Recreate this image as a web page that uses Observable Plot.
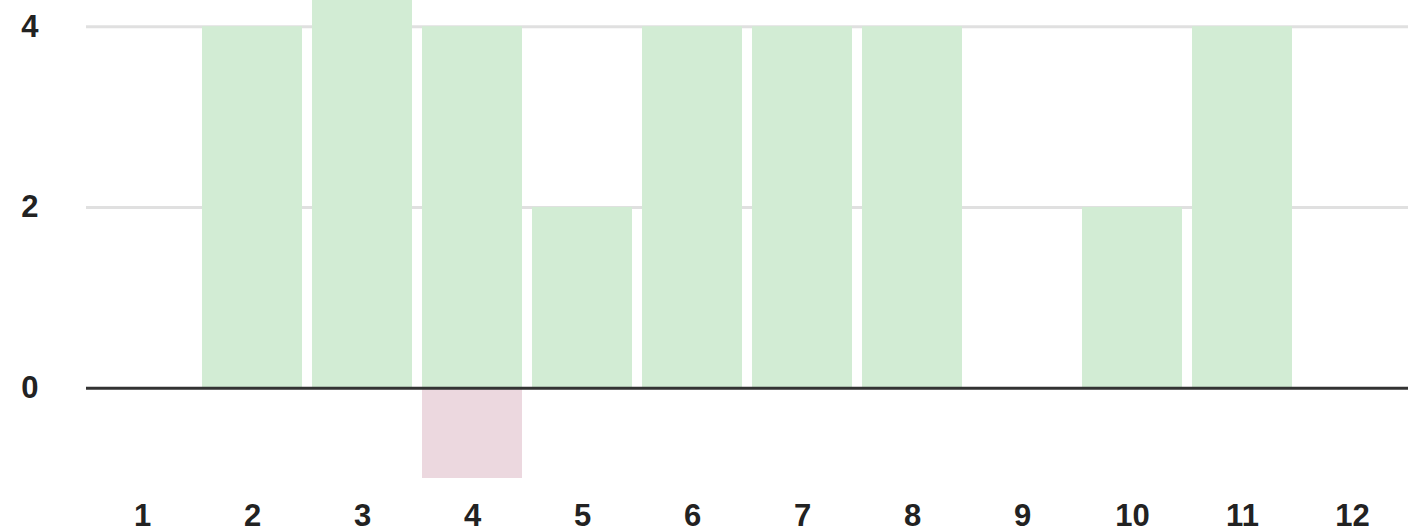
<!DOCTYPE html>
<html>
<head>
<meta charset="utf-8">
<script src="https://cdn.jsdelivr.net/npm/d3@7"></script>
<script src="https://cdn.jsdelivr.net/npm/@observablehq/plot@0.6"></script>
<style>
  html, body { margin: 0; padding: 0; background: #fff; }
  svg { display: block; }
</style>
</head>
<body>
<div id="chart"></div>
<script>
const categories = ["1","2","3","4","5","6","7","8","9","10","11","12"];
const positive = [0, 4, 5, 4, 2, 4, 4, 4, 0, 2, 4, 0];
const negative = [0, 0, 0, -1, 0, 0, 0, 0, 0, 0, 0, 0];
const yTicks = [0, 2, 4];
const gridTicks = [2, 4];

const posData = categories.map((c, i) => ({c, v: positive[i]}));
const negData = categories.map((c, i) => ({c, v: negative[i]}));

const chart = Plot.plot({
  width: 1410,
  height: 532,
  marginLeft: 86,
  marginRight: 2,
  marginTop: 0,
  marginBottom: 54,
  style: {fontFamily: "Liberation Sans, Arial, sans-serif", fontSize: "31px", fontWeight: "bold", color: "#222", background: "#fff"},
  x: {type: "band", domain: categories, paddingInner: 0.095, paddingOuter: 0.05, label: null},
  y: {domain: [-1, 4.29], label: null},
  marks: [
    Plot.ruleY(gridTicks, {stroke: "#e0e0e0", strokeWidth: 3}),
    Plot.barY(posData, {x: "c", y: "v", fill: "#d2ecd4", clip: true}),
    Plot.barY(negData, {x: "c", y: "v", fill: "#ecd8df", clip: true}),
    Plot.ruleY([0], {stroke: "#333", strokeWidth: 3}),
    Plot.axisY({ticks: yTicks, tickFormat: d3.format("d"), tickSize: 0, tickPadding: 48, label: null, fill: "#222"}),
    Plot.axisX({tickSize: 0, tickPadding: 25, label: null, fill: "#222"})
  ]
});
document.getElementById("chart").appendChild(chart);
</script>
</body>
</html>
